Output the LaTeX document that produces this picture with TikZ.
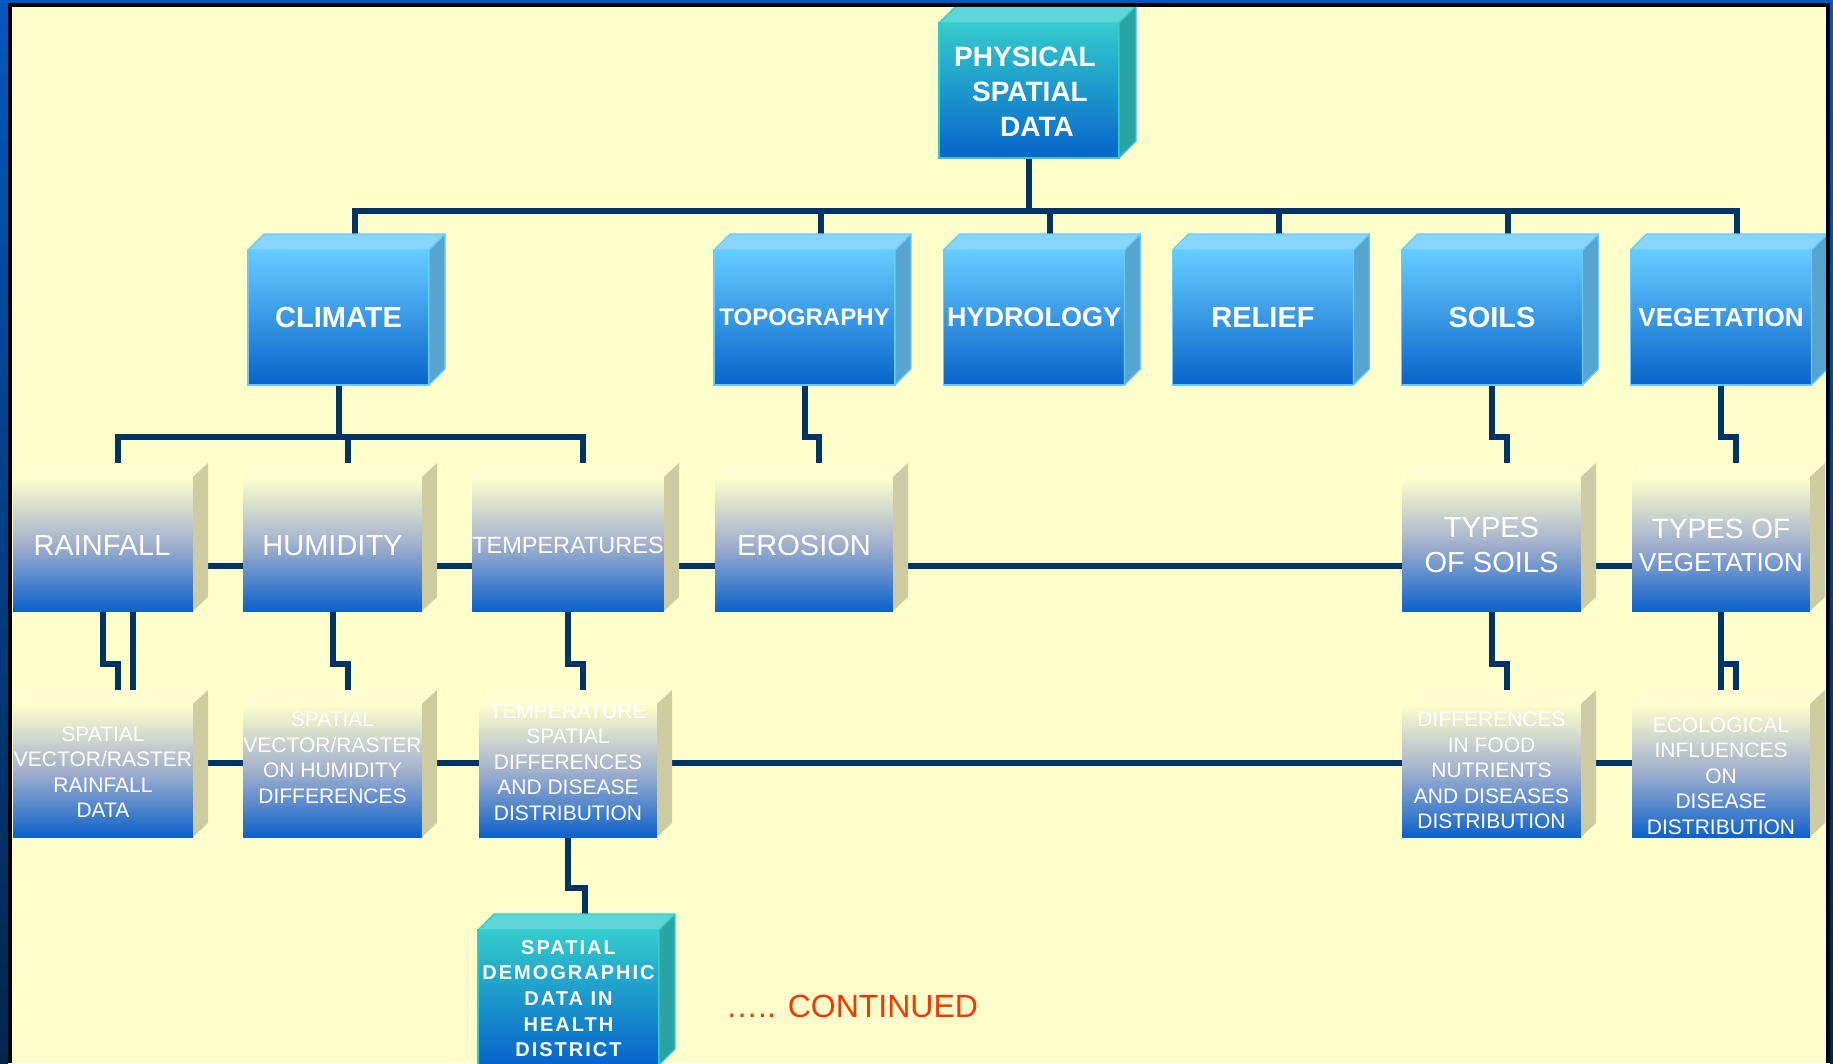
\documentclass[tikz,border=0pt]{standalone}
\usepackage{fontspec}
\setmainfont{Liberation Sans}
\newfontfamily\spacedfont[LetterSpace=10]{Liberation Sans}
\usetikzlibrary{calc}
\definecolor{paper}{HTML}{FFFFCC}
\definecolor{conncol}{HTML}{003366}
\definecolor{frameA}{HTML}{0058BE}
\definecolor{frameB}{HTML}{00264F}
\definecolor{physA}{HTML}{33CCCC}
\definecolor{physB}{HTML}{0664CC}
\definecolor{physTop}{HTML}{5CD6D6}
\definecolor{physSide}{HTML}{29A3A3}
\definecolor{rA}{HTML}{66CCFF}
\definecolor{rB}{HTML}{0A64CC}
\definecolor{rTop}{HTML}{88D6FF}
\definecolor{rSide}{HTML}{55A5CF}
\definecolor{sMid}{HTML}{A2B0CD}
\definecolor{sB}{HTML}{0D62CC}
\definecolor{sTop}{HTML}{FDFDCF}
\definecolor{sSide}{HTML}{CCCCA0}
\definecolor{contred}{HTML}{FF3300}
\pgfdeclarelayer{paperlayer}
\pgfdeclarelayer{lines}
\pgfsetlayers{paperlayer,lines,main}
\newcommand\cubefaces[6]{%
  \path[fill=#4,draw=#6,line width=1.2pt,line join=round]
    (#1.north west) -- ($(#1.north west)+(#2,-#3)$) -- ($(#1.north east)+(#2,-#3)$) -- (#1.north east) -- cycle;
  \path[fill=#5,draw=#6,line width=1.2pt,line join=round]
    (#1.north east) -- ($(#1.north east)+(#2,-#3)$) -- ($(#1.south east)+(#2,-#3)$) -- (#1.south east) -- cycle;
}
\tikzset{
  conn/.style={draw=conncol,line width=6pt,line join=miter,line cap=butt},
  physbox/.style={rectangle,inner sep=0,outer sep=0,minimum height=135pt,draw=physA,line width=1.5pt,top color=physA,bottom color=physB},
  rowone/.style={rectangle,inner sep=0,outer sep=0,minimum height=135pt,draw=rA,line width=1.5pt,top color=rA,bottom color=rB},
  rowtwo/.style={rectangle,inner sep=0,outer sep=0,minimum height=134pt,top color=paper,bottom color=sB,middle color=sMid},
  rowthree/.style={rectangle,inner sep=0,outer sep=0,minimum height=133pt,top color=paper,bottom color=sB,middle color=sMid},
  txt/.style={text=white,align=center,inner sep=0,outer sep=0},
  fs/.style 2 args={font=\fontsize{#1}{#2}\selectfont},
  bfs/.style 2 args={font=\bfseries\fontsize{#1}{#2}\selectfont},
}
\begin{document}
\begin{tikzpicture}[x=1pt,y=-1pt]
\useasboundingbox (0,0) rectangle (1833,1063);
\begin{pgfonlayer}{paperlayer}
  \fill[paper] (0,0) rectangle (1833,1063);
\end{pgfonlayer}

% ---------- boxes ----------
\node[physbox,minimum width=180pt] (phys) at (1029,90.5) {};
\cubefaces{phys}{17}{17}{physTop}{physSide}{physA}

\node[rowone,minimum width=181pt] (climate) at (338.5,317.5) {};
\node[rowone,minimum width=181pt] (topo) at (804.5,317.5) {};
\node[rowone,minimum width=181pt] (hydro) at (1034,317.5) {};
\node[rowone,minimum width=181pt] (relief) at (1263,317.5) {};
\node[rowone,minimum width=181pt] (soils) at (1492,317.5) {};
\node[rowone,minimum width=181pt] (veg) at (1721,317.5) {};
\foreach \n in {climate,topo,hydro,relief,soils,veg}{\cubefaces{\n}{16}{16}{rTop}{rSide}{rA}}

\node[rowtwo,minimum width=180pt] (rain) at (103,544) {};
\node[rowtwo,minimum width=179pt] (hum) at (332.5,544) {};
\node[rowtwo,minimum width=192pt] (temp) at (568,544) {};
\node[rowtwo,minimum width=178pt] (ero) at (804,544) {};
\node[rowtwo,minimum width=179pt] (tsoil) at (1491.5,544) {};
\node[rowtwo,minimum width=178pt] (tveg) at (1721,544) {};
\foreach \n in {rain,hum,temp,ero,tsoil,tveg}{\cubefaces{\n}{15}{14}{sTop}{sSide}{none}}

\node[rowthree,minimum width=180pt] (rain3) at (103,770.5) {};
\node[rowthree,minimum width=179pt] (hum3) at (332.5,770.5) {};
\node[rowthree,minimum width=178pt] (temp3) at (568,770.5) {};
\node[rowthree,minimum width=179pt] (diff) at (1491.5,770.5) {};
\node[rowthree,minimum width=178pt] (eco) at (1721,770.5) {};
\foreach \n in {rain3,hum3,temp3,diff,eco}{\cubefaces{\n}{15}{14}{sTop}{sSide}{none}}

\node[physbox,minimum width=181pt] (demo) at (568.5,997.5) {};
\cubefaces{demo}{16}{16}{physTop}{physSide}{physA}

% back-top centres
\foreach \n in {climate,topo,hydro,relief,soils,veg,demo}{\coordinate (\n-b) at ($(\n.north)+(16,-16)$);}
\foreach \n in {rain,hum,temp,ero,tsoil,tveg,rain3,hum3,temp3,diff,eco}{\coordinate (\n-b) at ($(\n.north)+(15,-14)$);}

% ---------- connectors ----------
\begin{pgfonlayer}{lines}
  \coordinate (ybar) at (0,211);
  \coordinate (yjog) at (0,437);
  \coordinate (yjogb) at (0,664);
  \coordinate (yjogc) at (0,888);
  \draw[conn] (phys.south) -- (phys.south |- ybar);
  \draw[conn] (climate-b) -- (climate-b |- ybar) -- (veg-b |- ybar) -- (veg-b);
  \foreach \n in {topo,hydro,relief,soils}{\draw[conn] (\n-b) -- (\n-b |- ybar);}
  \draw[conn] (climate.south) -- (climate.south |- yjog);
  \draw[conn] (rain-b) -- (rain-b |- yjog) -- (temp-b |- yjog) -- (temp-b);
  \draw[conn] (hum-b) -- (hum-b |- yjog);
  \draw[conn] (topo.south) -- (topo.south |- yjog) -| (ero-b);
  \draw[conn] (soils.south) -- (soils.south |- yjog) -| (tsoil-b);
  \draw[conn] (veg.south) -- (veg.south |- yjog) -| (tveg-b);
  \draw[conn] (rain.south) -- (rain.south |- yjogb) -| (rain3-b);
  \draw[conn] ($(rain.south)+(30,0)$) -- ($(rain3-b)+(15,0)$);
  \draw[conn] (hum.south) -- (hum.south |- yjogb) -| (hum3-b);
  \draw[conn] (temp.south) -- (temp.south |- yjogb) -| (temp3-b);
  \draw[conn] (tsoil.south) -- (tsoil.south |- yjogb) -| (diff-b);
  \draw[conn] (tveg.south) -- (tveg.south |- eco-b);
  \draw[conn] (tveg.south |- yjogb) -| (eco-b);
  \draw[conn] (temp3.south) -- (temp3.south |- yjogc) -| (demo-b);
  \draw[conn] ($(rain.east)+(0,22)$) -- ($(tveg.west)+(0,22)$);
  \draw[conn] ($(rain3.east)+(0,-7.5)$) -- ($(eco.west)+(0,-7.5)$);
\end{pgfonlayer}

% ---------- texts ----------
\node[txt,bfs={28}{35}] (phys-t) at ($(phys)+(1,1.5)$) {PHYSICAL\hspace*{10pt}\\SPATIAL\\\hspace*{14pt}DATA};
\node[txt,bfs={29}{35}] (climate-t) at (climate) {CLIMATE};
\node[txt,bfs={24}{30}] (topo-t) at (topo) {TOPOGRAPHY};
\node[txt,bfs={27}{33}] (hydro-t) at (hydro) {HYDROLOGY};
\node[txt,bfs={29}{35}] (relief-t) at (relief) {RELIEF};
\node[txt,bfs={29}{35}] (soils-t) at (soils) {SOILS};
\node[txt,bfs={26}{32}] (veg-t) at (veg) {VEGETATION};

\node[txt,fs={29}{35}] (rain-t) at ($(rain)+(-1,1.5)$) {RAINFALL};
\node[txt,fs={29}{35}] (hum-t) at ($(hum)+(0,1.5)$) {HUMIDITY};
\node[txt,fs={23.5}{30}] (temp-t) at ($(temp)+(0,1.5)$) {TEMPERATURES};
\node[txt,fs={29}{35}] (ero-t) at ($(ero)+(0,1.5)$) {EROSION};
\node[txt,fs={29}{35}] (tsoil-t) at ($(tsoil)+(0,1.5)$) {TYPES\\OF SOILS};
\node[txt,fs={28}{33}] (tveg-t) at ($(tveg)+(0,1.5)$) {TYPES OF\\{\fontsize{26}{33}\selectfont VEGETATION}};

\node[txt,fs={21}{25.5}] (rain3-t) at ($(rain3)+(0,1.5)$) {SPATIAL\\VECTOR/RASTER\\RAINFALL\\DATA};
\node[txt,fs={21}{25.5}] (hum3-t) at ($(hum3)+(0,-12.5)$) {SPATIAL\\VECTOR/RASTER\\ON HUMIDITY\\DIFFERENCES};
\node[txt,fs={21}{25.5}] (temp3-t) at ($(temp3)+(0,-8.5)$) {TEMPERATURE\\SPATIAL\\DIFFERENCES\\AND DISEASE\\DISTRIBUTION};
\node[txt,fs={21}{25.5}] (diff-t) at (diff) {DIFFERENCES\\IN FOOD\\NUTRIENTS\\AND DISEASES\\DISTRIBUTION};
\node[txt,fs={21}{25.5}] (eco-t) at ($(eco)+(0,5.5)$) {ECOLOGICAL\\INFLUENCES\\ON\\DISEASE\\DISTRIBUTION};

\node[txt,font=\spacedfont\bfseries\fontsize{20}{25.7}\selectfont] (demo-t) at ($(demo)+(0,1)$) {SPATIAL\\DEMOGRAPHIC\\DATA IN\\HEALTH\\DISTRICT};

\node[anchor=base west,inner sep=0,text=contred,font=\fontsize{32}{38}\selectfont] (cont) at (726,1017) {….. CONTINUED};

% ---------- frame ----------
\fill[top color=frameA,bottom color=frameB] (0,0) rectangle (8,1063);
\fill[frameA] (0,0) rectangle (1833,3);
\fill[top color=frameA,bottom color=frameB] (1830,0) rectangle (1833,1063);
\fill[black] (8,3) rectangle (12,1063);
\fill[black] (8,3) rectangle (1830,7);
\fill[black] (1826,3) rectangle (1830,1063);
\end{tikzpicture}
\end{document}
